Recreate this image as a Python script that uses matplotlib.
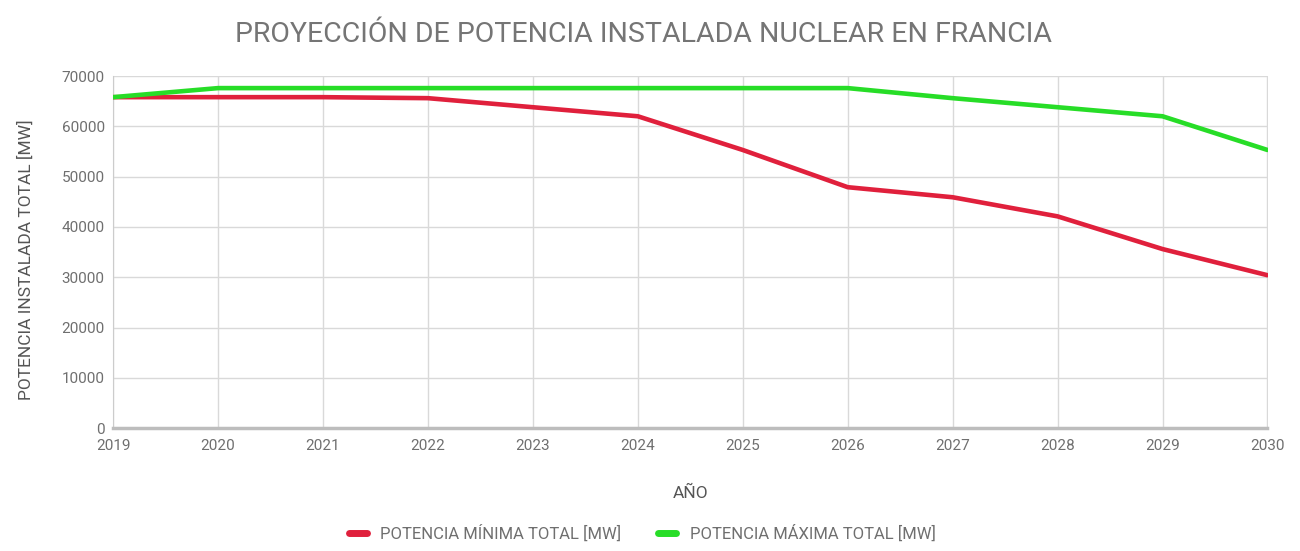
import matplotlib
matplotlib.use("Agg")
import matplotlib.pyplot as plt
from matplotlib.lines import Line2D

plt.rcParams['font.family'] = ['Roboto', 'DejaVu Sans']

years = [2019, 2020, 2021, 2022, 2023, 2024, 2025, 2026, 2027, 2028, 2029, 2030]
pot_min = [65800, 65800, 65800, 65600, 63800, 62000, 55300, 47900, 45900, 42100, 35600, 30400]
pot_max = [65800, 67600, 67600, 67600, 67600, 67600, 67600, 67600, 65600, 63800, 62000, 55300]
y_ticks = [0, 10000, 20000, 30000, 40000, 50000, 60000, 70000]

title = "PROYECCIÓN DE POTENCIA INSTALADA NUCLEAR EN FRANCIA"
xlabel = "AÑO"
ylabel = "POTENCIA INSTALADA TOTAL [MW]"
lab_min = "POTENCIA MÍNIMA TOTAL [MW]"
lab_max = "POTENCIA MÁXIMA TOTAL [MW]"

red = "#e0203c"
green = "#27dd27"
grey_txt = "#6f6f6f"

fig = plt.figure(figsize=(13, 5.51), dpi=100)
ax = fig.add_axes([0.087, 0.223, 0.888, 0.639])

ax.plot(years, pot_min, color=red, lw=3.3, solid_capstyle='round', solid_joinstyle='round', zorder=3)
ax.plot(years, pot_max, color=green, lw=3.3, solid_capstyle='round', solid_joinstyle='round', zorder=3)

ax.set_xlim(2019, 2030)
ax.set_ylim(0, 70000)
ax.set_xticks(years)
ax.set_yticks(y_ticks)
ax.set_xticklabels([str(y) for y in years])
ax.set_yticklabels([str(v) for v in y_ticks])
ax.grid(True, color="#d9d9d9", lw=1)
ax.set_axisbelow(True)
for s in ['top', 'right']:
    ax.spines[s].set_visible(False)
ax.spines['left'].set_color("#cccccc")
ax.spines['bottom'].set_color("#bdbdbd")
ax.spines['bottom'].set_linewidth(2.5)
ax.tick_params(axis='both', colors=grey_txt, labelsize=11, length=0, pad=6)
ax.tick_params(axis='x', pad=8)

fig.text(0.495, 0.937, title, ha='center', va='center', fontsize=20.5, color="#757575")
fig.text(0.531, 0.105, xlabel, ha='center', va='center', fontsize=12.5, color="#555555")
fig.text(0.020, 0.528, ylabel, ha='center', va='center', rotation=90, fontsize=12.5, color="#555555")

handles = [Line2D([0], [0], color=red, lw=5, solid_capstyle='round'),
           Line2D([0], [0], color=green, lw=5, solid_capstyle='round')]
fig.legend(handles, [lab_min, lab_max], loc='center', bbox_to_anchor=(0.494, 0.033), ncol=2,
           frameon=False, fontsize=12, labelcolor=grey_txt, handlelength=1.1, columnspacing=2.2,
           handletextpad=0.8)

fig.savefig("out.png", dpi=100)
